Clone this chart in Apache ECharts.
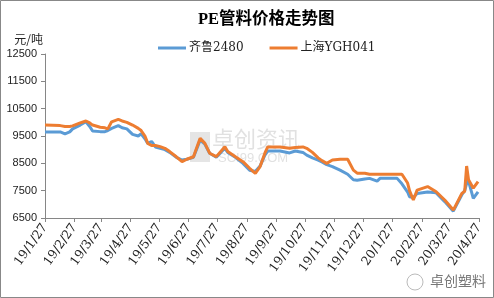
<!DOCTYPE html>
<html><head><meta charset="utf-8">
<script src="https://cdn.jsdelivr.net/npm/echarts@6/dist/echarts.min.js"></script>
<style>html,body{margin:0;padding:0;background:#fff}#c{width:494px;height:298px}</style>
</head><body><div id="c"></div>
<script>
const dates=['2019-01-27','2019-02-12','2019-02-17','2019-02-22','2019-02-25','2019-03-05','2019-03-11','2019-03-15','2019-03-18','2019-03-26',
'2019-03-31','2019-04-03','2019-04-07','2019-04-14','2019-04-18','2019-04-23','2019-04-29','2019-05-05','2019-05-08','2019-05-12',
'2019-05-15','2019-05-19','2019-05-23','2019-05-28','2019-06-02','2019-06-07','2019-06-14','2019-06-20','2019-06-25','2019-07-02',
'2019-07-09','2019-07-14','2019-07-19','2019-07-26','2019-08-04','2019-08-07','2019-08-15','2019-08-23','2019-08-30','2019-09-05',
'2019-09-10','2019-09-15','2019-09-18','2019-09-20','2019-10-01','2019-10-11','2019-10-17','2019-10-25','2019-10-29','2019-11-04',
'2019-11-10','2019-11-14','2019-11-19','2019-11-25','2019-12-03','2019-12-11','2019-12-17','2019-12-21','2019-12-29','2020-01-03',
'2020-01-11','2020-01-14','2020-02-01','2020-02-06','2020-02-12','2020-02-14','2020-02-18','2020-02-22','2020-03-04','2020-03-13',
'2020-03-22','2020-03-31','2020-04-09','2020-04-12','2020-04-14','2020-04-16','2020-04-21','2020-04-26'];
const qilu=[9650,9650,9580,9650,9760,9900,10020,9850,9680,9660,
9660,9700,9780,9880,9800,9760,9560,9500,9580,9400,
9230,9300,9100,9050,9000,8900,8720,8620,8650,8720,
9350,9200,8870,8720,9050,8900,8720,8500,8250,8200,
8400,8800,8950,8960,8950,8880,8950,8900,8800,8700,
8620,8550,8450,8380,8250,8100,7900,7880,7930,7950,
7850,7950,7950,7750,7450,7280,7250,7400,7450,7420,
7100,6750,7350,7500,7770,7850,7220,7460];
const shanghai=[9900,9880,9850,9850,9870,9980,10050,9980,9900,9820,
9800,9760,10020,10110,10050,10000,9900,9780,9700,9500,
9230,9150,9150,9110,9050,8930,8740,8560,8650,8740,
9420,9230,8870,8745,9110,8930,8745,8560,8320,8135,
8380,8870,9100,9110,9100,9050,9080,9100,9050,8900,
8700,8600,8500,8620,8650,8650,8250,8140,8140,8100,
8100,8100,8100,8100,7780,7500,7160,7520,7650,7460,
7160,6790,7400,7480,8400,7900,7590,7830];
const tickDates=['2019-01-27','2019-02-27','2019-03-27','2019-04-27','2019-05-27','2019-06-27','2019-07-27','2019-08-27',
'2019-09-27','2019-10-27','2019-11-27','2019-12-27','2020-01-27','2020-02-27','2020-03-27','2020-04-27'];
const yTicks=[6500,7500,8500,9500,10500,11500,12500];
const seriesNames=['齐鲁2480','上海YGH041'];

const DAY=86400000;
const base=Date.UTC(2019,0,27);
function dayIdx(s){const p=s.split('-');return (Date.UTC(+p[0],+p[1]-1,+p[2])-base)/DAY;}
function lbl(d){const t=new Date(base+Math.round(d)*DAY);return (t.getUTCFullYear()%100)+'/'+(t.getUTCMonth()+1)+'/'+t.getUTCDate();}
const xTicks=tickDates.map(dayIdx);

const chart=echarts.init(document.getElementById('c'),null,{renderer:'canvas'});
chart.setOption({
  animation:false,
  backgroundColor:'#fff',
  title:{text:'PE管料价格走势图',left:193,top:6,
    textStyle:{fontSize:16.5,fontWeight:'bold',color:'#000',fontFamily:'Liberation Serif, Noto Sans CJK SC'}},
  legend:{top:37,left:153,itemWidth:28,itemHeight:3,itemGap:26,icon:'rect',
    textStyle:{fontSize:12,color:'#222',fontFamily:'DejaVu Serif, Noto Sans CJK SC',padding:[0,0,0,-2]},
    data:seriesNames},
  grid:{left:45,right:15,top:54,bottom:80,containLabel:false},
  graphic:[
    {type:'rect',z:-10,shape:{x:0.5,y:0.5,width:493,height:297},style:{fill:'none',stroke:'#888',lineWidth:1}},
    {type:'text',z:-5,left:212,top:128,style:{text:'卓创资讯',fontSize:22,fill:'rgba(170,170,170,0.35)',fontFamily:'Noto Sans CJK SC'}},
    {type:'text',z:-5,left:218,top:152,style:{text:'SCI99.COM',fontSize:13,fill:'rgba(170,170,170,0.35)',fontFamily:'Liberation Sans'}},
    {type:'rect',z:-5,shape:{x:190,y:132,width:20,height:30},style:{fill:'rgba(170,170,170,0.3)'}},
    {type:'circle',z:-5,shape:{cx:415,cy:282,r:8},style:{fill:'none',stroke:'#bbb',lineWidth:1}},
    {type:'text',z:-5,left:430,top:274,style:{text:'卓创塑料',fontSize:14,fill:'#777',fontFamily:'Noto Sans CJK SC'}}
  ],
  xAxis:{type:'value',min:0,max:dayIdx('2020-04-27'),
    axisLine:{lineStyle:{color:'#868686'}},
    axisTick:{show:true,length:4,customValues:xTicks,lineStyle:{color:'#868686'}},
    axisLabel:{customValues:xTicks,rotate:55,margin:7,formatter:v=>lbl(v),
      fontSize:12.5,color:'#222',fontFamily:'DejaVu Serif'},
    splitLine:{show:false}},
  yAxis:{type:'value',min:6500,max:12500,name:'元/吨',nameLocation:'end',nameGap:9,
    nameTextStyle:{align:'right',fontSize:12,color:'#222',fontFamily:'Noto Sans CJK SC',padding:[0,2,0,0]},
    axisLine:{show:true,lineStyle:{color:'#868686'}},
    axisTick:{show:true,length:4,customValues:yTicks,lineStyle:{color:'#868686'}},
    axisLabel:{customValues:yTicks,margin:8,fontSize:11,color:'#222',fontFamily:'Liberation Sans',formatter:v=>String(v)},
    splitLine:{show:false}},
  series:[
    {name:seriesNames[0],type:'line',showSymbol:false,symbol:'none',lineStyle:{width:3,color:'#5B9BD5'},itemStyle:{color:'#5B9BD5'},
      data:dates.map((d,i)=>[dayIdx(d),qilu[i]])},
    {name:seriesNames[1],type:'line',showSymbol:false,symbol:'none',lineStyle:{width:3,color:'#ED7D31'},itemStyle:{color:'#ED7D31'},
      data:dates.map((d,i)=>[dayIdx(d),shanghai[i]])}
  ]
});
</script></body></html>
